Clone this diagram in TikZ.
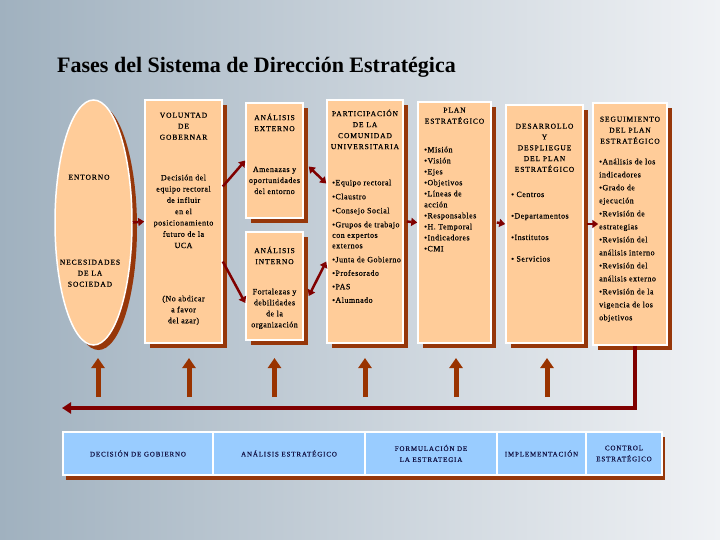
\documentclass[tikz,border=0pt]{standalone}
\usepackage{fontspec}
\setmainfont{Liberation Serif}
\newfontfamily\hdfont[LetterSpace=12,FakeBold=0.6]{Liberation Serif}
\newfontfamily\itfont[LetterSpace=6,FakeBold=0.5]{Liberation Serif}
\definecolor{bgleft}{RGB}{160,177,191}
\definecolor{bgmid}{RGB}{205,213,221}
\definecolor{bgright}{RGB}{240,242,245}
\definecolor{peach}{RGB}{255,204,153}
\definecolor{shbrown}{RGB}{150,55,10}
\definecolor{arrred}{RGB}{128,0,0}
\definecolor{upbrown}{RGB}{153,51,0}
\definecolor{barblue}{RGB}{153,204,255}
\definecolor{bartext}{RGB}{20,20,70}
\usetikzlibrary{arrows.meta,positioning,shapes.geometric,shadows,calc}

\begin{document}
\begin{tikzpicture}[x=1pt,y=-1pt,
  phase/.style={draw=white,line width=1.5pt,fill=peach,inner sep=0pt,
    drop shadow={shadow xshift=5pt,shadow yshift=-5pt,fill=shbrown,opacity=1}},
  head/.style={font=\hdfont\fontsize{7.5}{11}\selectfont,align=center,inner sep=0pt,anchor=north},
  body/.style={font=\itfont\fontsize{8}{11}\selectfont,align=center,inner sep=0pt,anchor=north},
  list/.style={font=\itfont\fontsize{8}{11}\selectfont,align=left,inner sep=0pt,anchor=north west},
  cell/.style={draw=white,line width=2pt,fill=barblue,inner sep=0pt,minimum height=43pt,
    font=\hdfont\fontsize{7}{11}\selectfont,text=bartext,align=center,
    drop shadow={shadow xshift=3pt,shadow yshift=-5pt,fill=shbrown,opacity=1}},
  arr/.style={draw=arrred,line width=2.5pt,-{Triangle[length=6pt,width=8pt]}},
  dblarr/.style={arr,{Triangle[length=6pt,width=8pt]}-{Triangle[length=6pt,width=8pt]}},
  uparr/.style={draw=upbrown,line width=5pt,-{Triangle[length=10pt,width=13pt]}},
  fbarr/.style={draw=arrred,line width=3.5pt,-{Triangle[length=9pt,width=11pt]}}
]
  % Background
  \shade[left color=bgleft,middle color=bgmid,right color=bgright] (0,0) rectangle (720,540);
  % Title
  \node[anchor=base west,font=\bfseries\fontsize{22}{26}\selectfont,inner sep=0pt] (title) at (57,73)
    {Fases del Sistema de Dirección Estratégica};
  % Entorno
  \node[phase,ellipse,minimum width=77pt,minimum height=245pt] (ent) at (93.5,222.5) {};
  \node[head] (ent1) at (89,174.5) {ENTORNO};
  \node[head] (ent2) at (90,259.5) {NECESIDADES\\DE LA\\SOCIEDAD};
  % Voluntad de gobernar
  \node[phase,minimum width=77pt,minimum height=243pt] (vol) at (183.5,221.5) {};
  \node[head] (vol1) at (183.5,112.5) {VOLUNTAD\\DE\\GOBERNAR};
  \node[body,font=\itfont\fontsize{8}{11.3}\selectfont] (vol2) at (183.5,174.5)
    {Decisión del\\equipo rectoral\\de influir\\en el\\posicionamiento\\futuro de la\\UCA};
  \node[body] (vol3) at (183.5,295.5) {(No abdicar\\a favor\\del azar)};
  % Analisis externo / interno
  \node[phase,minimum width=57pt,minimum height=115pt] (ext) at (274.5,160.5) {};
  \node[head] (ext1) at (274.5,113.5) {ANÁLISIS\\EXTERNO};
  \node[body] (ext2) at (274.5,166.5) {Amenazas y\\oportunidades\\del entorno};
  \node[phase,minimum width=57pt,minimum height=108pt] (int) at (274.5,286) {};
  \node[head] (int1) at (274.5,246.5) {ANÁLISIS\\INTERNO};
  \node[body] (int2) at (274.5,288.5) {Fortalezas y\\debilidades\\de la\\organización};
  % Participacion
  \node[phase,minimum width=76pt,minimum height=243pt] (part) at (365,221.5) {};
  \node[head] (part1) at (365,109.5) {PARTICIPACIÓN\\DE LA\\COMUNIDAD\\UNIVERSITARIA};
  \node[list,font=\itfont\fontsize{8}{10.5}\selectfont] (part2) at (332,179.5)
    {•Equipo rectoral\\[3.5pt]•Claustro\\[3.5pt]•Consejo Social\\[3.5pt]•Grupos de trabajo\\con expertos\\externos\\[3.5pt]•Junta de Gobierno\\[3pt]•Profesorado\\[3pt]•PAS\\[3pt]•Alumnado};
  % Plan estrategico
  \node[phase,minimum width=73pt,minimum height=241pt] (plan) at (454.5,222.5) {};
  \node[head] (plan1) at (454.5,107.5) {PLAN\\ESTRATÉGICO};
  \node[list] (plan2) at (424,146.5)
    {•Misión\\•Visión\\•Ejes\\•Objetivos\\•Líneas de\\acción\\•Responsables\\•H. Temporal\\•Indicadores\\•CMI};
  % Desarrollo
  \node[phase,minimum width=77pt,minimum height=238pt] (desa) at (544.5,224) {};
  \node[head,font=\hdfont\fontsize{7.5}{10.8}\selectfont] (desa1) at (544.5,123.5)
    {DESARROLLO\\Y\\DESPLIEGUE\\DEL PLAN\\ESTRATÉGICO};
  \node[list] (desa2) at (511,191.5) {• Centros\\[10.5pt]•Departamentos\\[10.5pt]•Institutos\\[10.5pt]• Servicios};
  % Seguimiento
  \node[phase,minimum width=74pt,minimum height=242pt] (seg) at (630,224) {};
  \node[head] (seg1) at (630,116.5) {SEGUIMIENTO\\DEL PLAN\\ESTRATÉGICO};
  \node[list,font=\itfont\fontsize{8}{13}\selectfont] (seg2) at (599,158.5)
    {•Análisis de los\\indicadores\\•Grado de\\ejecución\\•Revisión de\\estrategias\\•Revisión del\\análisis interno\\•Revisión del\\análisis externo\\•Revisión de la\\vigencia de los\\objetivos};
  % Arrows between phases
  \draw[arr] (ent.east) -- (vol.west);
  \draw[arr] ([yshift=35pt]vol.east) -- (ext.west);
  \draw[arr] ([yshift=-40pt]vol.east) -- ([yshift=-17pt]int.west);
  \draw[dblarr] ([xshift=5pt,yshift=-6pt]ext.east) -- ([yshift=38pt]part.west);
  \draw[dblarr] ([xshift=5pt,yshift=-10pt]int.east) -- ([yshift=-40pt]part.west);
  \draw[arr] ([xshift=3pt]part.east) -- (plan.west);
  \draw[arr] ([xshift=5pt]plan.east) -- (desa.west);
  \draw[arr] ([xshift=3pt]desa.east) -- ([xshift=6pt]seg.west);
  % Feedback
  \coordinate (fbend) at (62,408);
  \coordinate (uptail) at (0,397);
  \coordinate (uptip) at (0,358);
  \draw[fbarr] ([xshift=5pt]seg.south) |- (fbend);
  \foreach \b/\dx in {ent/4.5,vol/5.5,int/0,part/0,plan/1.5,desa/2.5}
    \draw[uparr] ($(\b.south |- uptail)+(\dx,0)$) -- ($(\b.south |- uptip)+(\dx,0)$);
  % Phases bar
  \node[cell,minimum width=150pt] (c1) at (138,453.5) {DECISIÓN DE GOBIERNO};
  \node[cell,minimum width=152pt] (c2) at (289,453.5) {ANÁLISIS ESTRATÉGICO};
  \node[cell,minimum width=132pt] (c3) at (431,453.5) {FORMULACIÓN DE\\LA ESTRATEGIA};
  \node[cell,minimum width=89pt] (c4) at (541.5,453.5) {IMPLEMENTACIÓN};
  \node[cell,minimum width=76pt] (c5) at (624,453.5) {CONTROL\\ESTRATÉGICO};
\end{tikzpicture}
\end{document}
